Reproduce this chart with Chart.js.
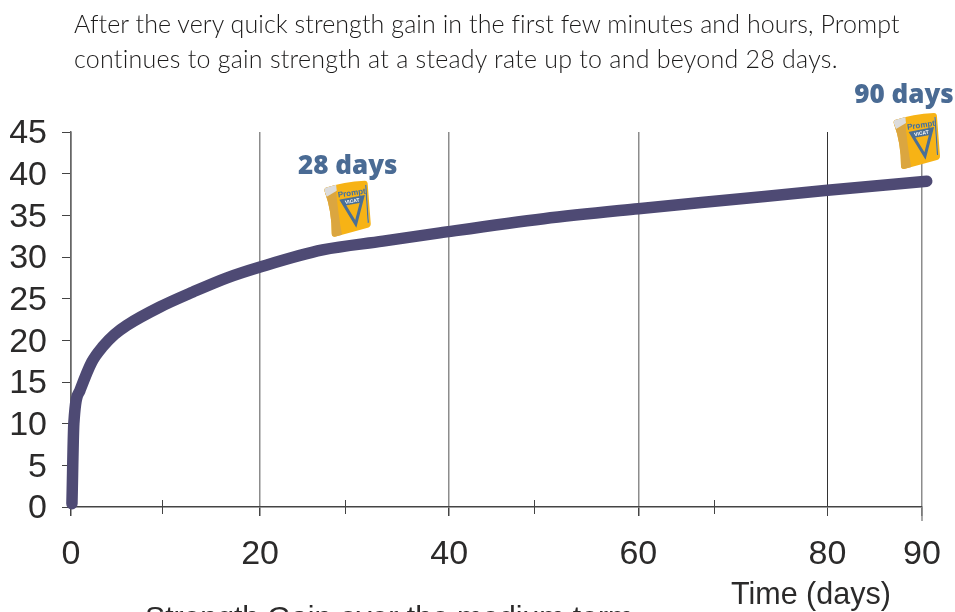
<!DOCTYPE html>
<html>
<head>
<meta charset="utf-8">
<script src="https://cdn.jsdelivr.net/npm/chart.js@4"></script>
<style>
    html, body { margin: 0; padding: 0; background: #fff; width: 955px; height: 612px; overflow: hidden; }
    #wrap { position: relative; width: 955px; height: 612px; overflow: hidden; }
    canvas { position: absolute; left: 0; top: 0; }
    .txt { position: absolute; white-space: nowrap; color: #2b2a2a; }
    .intro { font-family: "Lato", sans-serif; font-weight: 300; font-size: 25px; line-height: 30px; left: 74px; font-variant-ligatures: none; color: #1c1b1b; }
    .axisText { font-family: "Liberation Sans", sans-serif; line-height: 34px; }
</style>
</head>
<body>
<div id="wrap">
    <canvas id="gainChart" width="955" height="612"></canvas>
    <div class="txt intro" style="top:8px;letter-spacing:0.08px">After the very quick strength gain in the first few minutes and hours, Prompt</div>
    <div class="txt intro" style="top:43px;letter-spacing:0.25px">continues to gain strength at a steady rate up to and beyond 28 days.</div>
    <div class="txt axisText" style="left:731px;top:576px;font-size:30.5px">Time (days)</div>
    <div class="txt axisText" style="left:145px;top:600px;font-size:30.2px">Strength Gain over the medium term</div>
</div>
<script>
const days = [0.1, 0.3, 0.95, 2.2, 3.4, 4.6, 5.9, 9.4, 12.9, 16.5, 20, 26.6, 33, 39, 50, 60, 70, 80, 90.5];
const strength = [0.4, 10, 14, 17.4, 19.3, 20.7, 21.8, 24, 25.8, 27.5, 28.8, 30.85, 31.9, 32.9, 34.6, 35.8, 36.9, 38, 39.1];

const xTicks = [0, 20, 40, 60, 80, 90];
const xMinorTicks = [9.65, 29, 49, 68];
const calloutLabels = ["28 days", "90 days"];
const calloutDays = [28, 90];
const calloutStrength = [31.1, 39];

// grey or near black, the gridlines differ in the original
function gridColor(ctx) {
    const v = ctx.tick.value;
    if (v === 0) return "#666";
    if (v === 80) return "#333";
    return "#8c8c8c";
}
function gridWidth(ctx) {
    return ctx.tick.value === 80 ? 1 : 1.5;
}

function drawBag(c, cx, cy) {
    c.save();
    c.translate(cx, cy);

    c.beginPath();
    c.moveTo(-22, -21);
    c.quadraticCurveTo(-4, -27, 17, -28);
    c.quadraticCurveTo(20, -28, 20, -24);
    c.lineTo(23, 15);
    c.quadraticCurveTo(23, 18, 20, 19);
    c.quadraticCurveTo(2, 24, -13, 28);
    c.quadraticCurveTo(-16, 28, -16, 25);
    c.quadraticCurveTo(-16, 2, -23, -17);
    c.quadraticCurveTo(-24, -20, -22, -21);
    c.closePath();
    c.fillStyle = "#f7b315";
    c.fill();

    c.save();
    c.clip();
    c.fillStyle = "#dba640";
    c.beginPath();
    c.moveTo(-26, -30);
    c.lineTo(-12, -24);
    c.quadraticCurveTo(-10, 5, -5, 30);
    c.lineTo(-26, 32);
    c.closePath();
    c.fill();
    c.fillStyle = "#dcdcdc";
    c.beginPath();
    c.moveTo(-26, -24);
    c.lineTo(-12, -27);
    c.lineTo(-11, -18);
    c.lineTo(-21, -12);
    c.closePath();
    c.fill();
    c.strokeStyle = "#fbd77a";
    c.lineWidth = 1.5;
    c.beginPath();
    c.moveTo(18, -24);
    c.lineTo(20.5, 14);
    c.stroke();
    c.restore();

    c.strokeStyle = "#4a6f96";
    c.lineWidth = 1.3;
    c.stroke();

    // triangle with the band on top
    c.beginPath();
    c.moveTo(-6, -8);
    c.lineTo(15, -12);
    c.lineTo(8, 15);
    c.closePath();
    c.strokeStyle = "#4a6f96";
    c.lineWidth = 3;
    c.lineJoin = "miter";
    c.stroke();
    c.beginPath();
    c.moveTo(-6, -8);
    c.lineTo(15, -12);
    c.lineTo(13, -6);
    c.lineTo(-4, -3);
    c.closePath();
    c.fillStyle = "#4a6f96";
    c.fill();

    c.save();
    c.translate(4, -15.5);
    c.rotate(-0.14);
    c.fillStyle = "#3f6fa3";
    c.font = "bold 8px 'Liberation Sans'";
    c.textAlign = "center";
    c.textBaseline = "middle";
    c.fillText("Prompt", 0, 0);
    c.restore();

    c.save();
    c.translate(4.5, -7.5);
    c.rotate(-0.18);
    c.fillStyle = "#fff";
    c.font = "bold 5px 'Liberation Sans'";
    c.textAlign = "center";
    c.textBaseline = "middle";
    c.fillText("VICAT", 0, 0);
    c.restore();

    c.restore();
}

const extras = {
    id: "extras",
    afterDatasetsDraw(chart) {
        const c = chart.ctx;
        const xs = chart.scales.x;
        const ys = chart.scales.y;
        const base = ys.getPixelForValue(0);

        // short ticks that cross the axis line, the library only draws them below
        c.save();
        c.strokeStyle = "#444";
        c.lineWidth = 1;
        xMinorTicks.forEach(v => {
            const px = Math.round(xs.getPixelForValue(v)) + 0.5;
            c.beginPath();
            c.moveTo(px, base - 7);
            c.lineTo(px, base + 7);
            c.stroke();
        });
        c.strokeStyle = "#8c8c8c";
        c.lineWidth = 1.5;
        c.beginPath();
        c.moveTo(xs.getPixelForValue(90), base);
        c.lineTo(xs.getPixelForValue(90), base + 14);
        c.stroke();
        c.restore();

        calloutLabels.forEach((label, i) => {
            const px = xs.getPixelForValue(calloutDays[i]);
            const py = ys.getPixelForValue(calloutStrength[i]);
            const first = i === 0;
            const bagX = first ? px + 12 : px - 5;
            const bagY = first ? py - 39 : py - 41;
            const textX = first ? px + 12 : px - 18;
            const textY = first ? py - 81 : py - 86;

            drawBag(c, bagX, bagY);
            c.save();
            c.fillStyle = "#4a6b94";
            c.font = "800 26px 'Open Sans'";
            c.textAlign = "center";
            c.textBaseline = "middle";
            c.fillText(label, textX, textY);
            c.restore();
        });
    }
};

new Chart(document.getElementById("gainChart"), {
    type: "line",
    data: {
        datasets: [{
            data: days.map((d, i) => ({ x: d, y: strength[i] })),
            borderColor: "#4e4a74",
            borderWidth: 11.5,
            borderCapStyle: "round",
            borderJoinStyle: "round",
            pointRadius: 0,
            cubicInterpolationMode: "monotone",
            clip: false
        }]
    },
    options: {
        responsive: false,
        animation: false,
        layout: { padding: { top: 132, right: 33, left: 0, bottom: 0 } },
        plugins: {
            legend: { display: false },
            title: { display: false },
            tooltip: { enabled: false }
        },
        scales: {
            x: {
                type: "linear",
                min: 0,
                max: 90,
                afterBuildTicks(scale) {
                    scale.ticks = xTicks.map(v => ({ value: v }));
                },
                afterFit(scale) {
                    scale.height = 105;
                    scale.paddingLeft = 0;
                    scale.paddingRight = 0;
                },
                grid: {
                    color: gridColor,
                    tickColor: "#444",
                    lineWidth: gridWidth,
                    tickLength: 9
                },
                border: { color: "#444", width: 1.5 },
                ticks: {
                    autoSkip: false,
                    maxRotation: 0,
                    padding: 18,
                    color: "#2b2a2a",
                    font: { family: "Liberation Sans", size: 34 }
                }
            },
            y: {
                min: 0,
                max: 45,
                afterFit(scale) {
                    scale.width = 71;
                    scale.paddingTop = 0;
                    scale.paddingBottom = 0;
                },
                grid: {
                    drawOnChartArea: false,
                    tickColor: "#444",
                    tickLength: 9
                },
                border: { color: "#666", width: 1.5 },
                ticks: {
                    autoSkip: false,
                    stepSize: 5,
                    padding: 15,
                    labelOffset: 2,
                    color: "#2b2a2a",
                    font: { family: "Liberation Sans", size: 34 }
                }
            }
        }
    },
    plugins: [extras]
});
</script>
</body>
</html>
